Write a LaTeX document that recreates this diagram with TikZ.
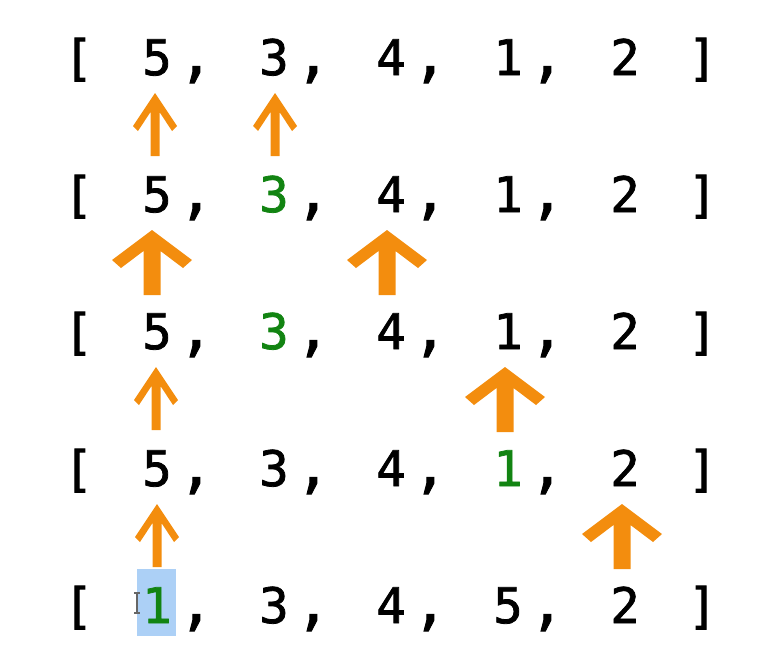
\documentclass[tikz,border=0pt]{standalone}
\usepackage{fontspec}
\newfontfamily\monofont[FakeBold=1.6]{DejaVu Sans Mono}
\definecolor{arrowc}{RGB}{243,141,14}
\definecolor{hlgreen}{RGB}{18,132,18}
\definecolor{hlblue}{RGB}{172,208,246}
\begin{document}
\begin{tikzpicture}[x=1pt,y=-1pt,
  glyph/.style={inner sep=0pt,outer sep=0pt,anchor=base,font=\monofont\fontsize{49}{49}\selectfont},
  commaglyph/.style={inner sep=0pt,outer sep=0pt,anchor=base,font=\monofont\fontsize{58}{58}\selectfont},
  thinup/.pic={\fill[arrowc] (0,0)--(22,33)--(17,38)--(4.5,19)--(4.5,63)--(-4.5,63)--(-4.5,19)--(-17,38)--(-22,33)--cycle;},
  thickup/.pic={\fill[arrowc] (0,0)--(40,30)--(31,38)--(8.5,21)--(8.5,65)--(-8.5,65)--(-8.5,21)--(-31,38)--(-40,30)--cycle;}
]
\useasboundingbox (0,0) rectangle (762,659);
% highlight behind the last row's first digit
\fill[hlblue] (137,569) rectangle (176,636);
% brackets and commas
\foreach \r/\b in {0/75,1/212,2/349,3/486,4/623}{
  \node[glyph] (lb\r) at (78.5,\b) {[};
  \node[glyph] (rb\r) at (702.5,\b) {]};
  \foreach \i in {1,2,3,4} {
    \pgfmathsetmacro{\cx}{157+117*(\i-1)+39}
    \node[commaglyph] (c\r\i) at (\cx,\b) {,};
  }
}
% digits
\node[glyph] (d01) at (157,75) {5};
\node[glyph] (d02) at (274,75) {3};
\node[glyph] (d03) at (391,75) {4};
\node[glyph] (d04) at (508,75) {1};
\node[glyph] (d05) at (625,75) {2};
\node[glyph] (d11) at (157,212) {5};
\node[glyph,text=hlgreen] (d12) at (274,212) {3};
\node[glyph] (d13) at (391,212) {4};
\node[glyph] (d14) at (508,212) {1};
\node[glyph] (d15) at (625,212) {2};
\node[glyph] (d21) at (157,349) {5};
\node[glyph,text=hlgreen] (d22) at (274,349) {3};
\node[glyph] (d23) at (391,349) {4};
\node[glyph] (d24) at (508,349) {1};
\node[glyph] (d25) at (625,349) {2};
\node[glyph] (d31) at (157,486) {5};
\node[glyph] (d32) at (274,486) {3};
\node[glyph] (d33) at (391,486) {4};
\node[glyph,text=hlgreen] (d34) at (508,486) {1};
\node[glyph] (d35) at (625,486) {2};
\node[glyph,text=hlgreen] (d41) at (157,623) {1};
\node[glyph] (d42) at (274,623) {3};
\node[glyph] (d43) at (391,623) {4};
\node[glyph] (d44) at (508,623) {5};
\node[glyph] (d45) at (625,623) {2};
% arrows
\pic at (155,93) {thinup};
\pic at (275,93) {thinup};
\pic at (152,230) {thickup};
\pic at (387,230) {thickup};
\pic at (156,367) {thinup};
\pic at (505,367) {thickup};
\pic at (157,504) {thinup};
\pic at (622,504) {thickup};
% text cursor
\draw[black!60,line width=1.2pt] (137,593)--(137,613) (134,593)--(140,593) (134,613)--(140,613);
\end{tikzpicture}
\end{document}
